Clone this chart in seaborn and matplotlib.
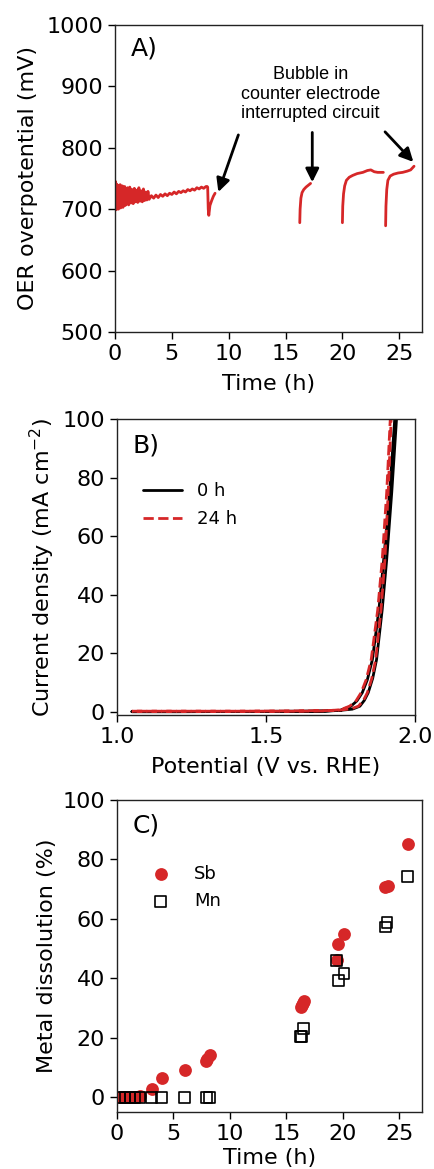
import numpy as np
import pandas as pd
import seaborn as sns
import matplotlib.pyplot as plt

# ── Data ──────────────────────────────────────────────────────────────────────

RED = '#d62728'

# A) chronopotentiometry, four segments (time in h, overpotential in mV)
seg1_t = [0.0, 0.05, 0.1, 0.15, 0.2, 0.25, 0.3, 0.35, 0.4, 0.45, 0.5, 0.55,
          0.6, 0.65, 0.7, 0.75, 0.8, 0.85, 0.9, 0.95, 1.0, 1.1, 1.2, 1.3,
          1.4, 1.5, 1.6, 1.7, 1.8, 1.9, 2.0, 2.1, 2.2, 2.3, 2.4, 2.5, 2.6, 2.7,
          2.8, 2.9, 3.0, 3.2, 3.4, 3.6, 3.8, 4.0, 4.2, 4.4, 4.6, 4.8, 5.0, 5.2,
          5.4, 5.6, 5.8, 6.0, 6.2, 6.4, 6.6, 6.8, 7.0, 7.2, 7.4, 7.6, 7.8, 8.0,
          8.1, 8.15, 8.2, 8.25, 8.35, 8.5, 8.65, 8.8]
seg1_v = [718, 745, 699, 741, 703, 739, 700, 737, 704, 740, 702, 736,
          705, 738, 703, 735, 707, 737, 706, 733, 708, 735, 707, 736,
          710, 732, 709, 734, 712, 731, 711, 735, 713, 730, 712, 733, 714, 728,
          715, 729, 716, 722, 718, 723, 719, 724, 721, 725, 722, 726, 724, 728,
          725, 729, 727, 730, 728, 732, 730, 733, 731, 735, 733, 736, 734, 737,
          737, 736, 700, 690, 706, 714, 721, 726]
seg2_t = [16.25, 16.28, 16.35, 16.45, 16.6, 16.8, 17.0, 17.2]
seg2_v = [678, 700, 718, 727, 732, 736, 739, 742]
seg3_t = [20.0, 20.03, 20.1, 20.2, 20.35, 20.6, 20.9, 21.3, 21.8, 22.2, 22.5,
          22.8, 23.1, 23.6]
seg3_v = [678, 705, 725, 738, 747, 752, 755, 758, 760, 763, 764, 761, 760, 760]
seg4_t = [23.8, 23.83, 23.9, 24.0, 24.2, 24.5, 24.9, 25.3, 25.7, 26.0, 26.2, 26.3]
seg4_v = [673, 705, 732, 747, 754, 757, 759, 760, 762, 764, 768, 770]

# B) polarisation curves, forward then reverse scan (V vs. RHE, mA cm-2)
pot_0h = [1.05, 1.20, 1.40, 1.60, 1.70, 1.75, 1.79, 1.815, 1.83, 1.843, 1.858,
          1.871, 1.890, 1.905, 1.922, 1.938, 1.945,
          1.945, 1.932, 1.915, 1.895, 1.879, 1.857, 1.840, 1.823, 1.805, 1.785,
          1.75, 1.70, 1.60, 1.40, 1.20, 1.05]
cur_0h = [0.2, 0.2, 0.2, 0.3, 0.4, 0.6, 1.0, 2.0, 4.0, 6.6, 11.5,
          17.9, 35, 52, 75, 100, 110,
          110, 100, 75, 52, 35, 17.9, 11.0, 6.6, 3.8, 2.0,
          0.6, 0.3, 0.2, 0.2, 0.1, 0.1]
pot_24h = [1.05, 1.20, 1.40, 1.60, 1.70, 1.75, 1.785, 1.81, 1.827, 1.84, 1.855,
           1.868, 1.886, 1.899, 1.910, 1.920, 1.925,
           1.925, 1.917, 1.905, 1.890, 1.875, 1.853, 1.836, 1.819, 1.80, 1.78,
           1.75, 1.70, 1.60, 1.40, 1.20, 1.05]
cur_24h = [0.3, 0.3, 0.3, 0.4, 0.5, 0.7, 1.1, 2.0, 4.0, 6.6, 11.5,
           17.9, 35, 52, 75, 100, 110,
           110, 100, 75, 52, 35, 17.9, 11.0, 6.6, 3.5, 2.0,
           0.8, 0.4, 0.3, 0.3, 0.3, 0.3]

# C) metal dissolution (%)
sb_t = [0.27, 0.71, 1.15, 1.6, 2.04, 3.08, 3.95, 5.98, 7.88, 8.0, 8.2,
        16.25, 16.35, 16.45, 16.55, 19.45, 19.6, 20.1, 23.74, 23.95, 25.73]
sb_pct = [0.0, 0.0, 0.0, 0.1, 0.4, 2.9, 6.5, 9.3, 12.1, 13.0, 14.1,
          30.2, 31.0, 31.8, 32.3, 46.1, 51.5, 54.9, 70.6, 71.1, 85.3]
mn_t = [0.27, 0.71, 1.15, 1.6, 2.04, 3.08, 3.97, 6.0, 7.9, 8.2,
        16.25, 16.35, 16.5, 19.45, 19.6, 20.1, 23.74, 23.9, 25.73]
mn_pct = [0, 0, 0, 0, 0, 0, 0, 0, 0, 0,
          20.5, 20.5, 23.0, 45.9, 39.2, 41.6, 57.3, 58.8, 74.2]

# ── Style ─────────────────────────────────────────────────────────────────────

sns.set_theme(style='ticks')
plt.rcParams.update({
    'font.family': ['DejaVu Sans'],
    'font.size': 16,
    'axes.labelsize': 16,
    'xtick.labelsize': 16,
    'ytick.labelsize': 16,
    'text.color': 'black',
    'axes.labelcolor': 'black',
    'axes.linewidth': 1.0,
    'axes.edgecolor': '#222222',
    'xtick.major.size': 5,
    'ytick.major.size': 5,
    'xtick.major.width': 1.0,
    'ytick.major.width': 1.0,
    'xtick.color': 'black',
    'ytick.color': 'black',
    'legend.fontsize': 13,
})

fig = plt.figure(figsize=(4.34, 11.69), dpi=100)
W, H = 434, 1169


def _axes(left, right, top, bottom):
    return fig.add_axes([left / W, (H - bottom) / H, (right - left) / W, (bottom - top) / H])


ax_a = _axes(115, 422, 25, 332)
ax_b = _axes(117, 415, 419, 715)
ax_c = _axes(117, 422, 800, 1112)

# ── A) ────────────────────────────────────────────────────────────────────────

for t, v in [(seg1_t, seg1_v), (seg2_t, seg2_v), (seg3_t, seg3_v), (seg4_t, seg4_v)]:
    sns.lineplot(x=t, y=v, ax=ax_a, color=RED, lw=2, sort=False, estimator=None)

ax_a.set_xlim(0, 27)
ax_a.set_ylim(500, 1000)
ax_a.set_xticks([0, 5, 10, 15, 20, 25])
ax_a.set_yticks([500, 600, 700, 800, 900, 1000])
ax_a.set_xlabel('Time (h)', labelpad=7)
ax_a.set_ylabel('OER overpotential (mV)', labelpad=6)
ax_a.text(0.052, 0.925, 'A)', transform=ax_a.transAxes, fontsize=18, va='center')

ax_a.text(17.2, 887, 'Bubble in\ncounter electrode\ninterrupted circuit',
          ha='center', va='center', multialignment='center',
          fontsize=13, family=['Liberation Sans', 'DejaVu Sans'])
arrow = dict(arrowstyle='-|>', color='black', lw=2, mutation_scale=20,
             shrinkA=0, shrinkB=0)
for tail, head in [((10.85, 821), (9.09, 728)),
                   ((17.35, 825), (17.35, 744)),
                   ((23.75, 826), (26.24, 777))]:
    ax_a.annotate('', xy=head, xytext=tail, arrowprops=arrow)

# ── B) ────────────────────────────────────────────────────────────────────────

sns.lineplot(x=pot_0h, y=cur_0h, ax=ax_b, color='black', lw=2,
             sort=False, estimator=None, label='0 h')
sns.lineplot(x=pot_24h, y=cur_24h, ax=ax_b, color=RED, lw=2, linestyle='--',
             sort=False, estimator=None, label='24 h')

ax_b.set_xlim(1.0, 2.0)
ax_b.set_ylim(-1, 100)
ax_b.set_xticks([1.0, 1.5, 2.0])
ax_b.set_yticks([0, 20, 40, 60, 80, 100])
ax_b.set_xlabel('Potential (V vs. RHE)', labelpad=7)
ax_b.set_ylabel('Current density (mA cm$^{-2}$)')
ax_b.text(0.052, 0.912, 'B)', transform=ax_b.transAxes, fontsize=18, va='center')
ax_b.legend(loc='upper left', bbox_to_anchor=(0.064, 0.81), frameon=False,
            handlelength=2.17, handletextpad=0.83, labelspacing=0.55,
            borderaxespad=0)

# ── C) ────────────────────────────────────────────────────────────────────────

sns.scatterplot(x=sb_t, y=sb_pct, ax=ax_c, color=RED, marker='o', s=85,
                linewidth=0, label='Sb')
sns.scatterplot(x=mn_t, y=mn_pct, ax=ax_c, marker='s', s=60,
                facecolor='none', edgecolor='black', linewidth=1.2, label='Mn')

ax_c.set_xlim(0, 27)
ax_c.set_ylim(-5, 100)
ax_c.set_xticks([0, 5, 10, 15, 20, 25])
ax_c.set_yticks([0, 20, 40, 60, 80, 100])
ax_c.set_xlabel('Time (h)', labelpad=3)
ax_c.set_ylabel('Metal dissolution (%)')
ax_c.text(0.052, 0.917, 'C)', transform=ax_c.transAxes, fontsize=18, va='center')
ax_c.legend(loc='upper left', bbox_to_anchor=(0.09, 0.815), frameon=False,
            handlelength=1.0, handletextpad=1.35, labelspacing=0.5,
            borderaxespad=0)

fig.savefig('out.png', dpi=100)
